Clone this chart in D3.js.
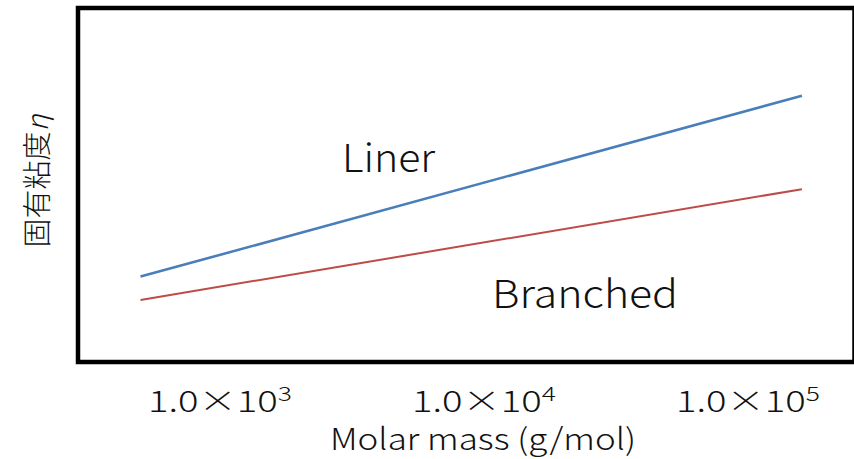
<!DOCTYPE html>
<html>
<head>
<meta charset="utf-8">
<script src="https://cdn.jsdelivr.net/npm/d3@7"></script>
<style>
  body { margin: 0; background: #fff; }
  svg { display: block; }
  text { font-family: "Noto Sans CJK JP", "Noto Sans", sans-serif; fill: #111; }
</style>
</head>
<body>
<svg id="chart" width="854" height="459"></svg>
<script>
// molar mass (g/mol) at the two ends of each line
const molarMass = [500, 160000];
// intrinsic viscosity, arbitrary units (no y ticks in the original)
const liner = [10, 595];
const branched = [5.9, 72];
const xTicks = [1e3, 1e4, 1e5];
const tickLabels = ["1.0\u00D710", "1.0\u00D710", "1.0\u00D710"];
const tickPowers = ["3", "4", "5"];

const svg = d3.select("#chart");

// frame
const frame = { left: 78, top: 8, right: 854.5, bottom: 362 };

const x = d3.scaleLog()
    .domain([1e3, 1e5])
    .range([220, 748]);

const y = d3.scaleLog()
    .domain([1.52, 4310])
    .range([360, 8]);

const line = d3.line()
    .x((d, i) => x(molarMass[i]))
    .y(d => y(d));

svg.append("path")
    .datum(liner)
    .attr("d", line)
    .attr("fill", "none")
    .attr("stroke", "#4a7ebb")
    .attr("stroke-width", 2.6);

svg.append("path")
    .datum(branched)
    .attr("d", line)
    .attr("fill", "none")
    .attr("stroke", "#be4b48")
    .attr("stroke-width", 2);

svg.append("rect")
    .attr("x", frame.left)
    .attr("y", frame.top)
    .attr("width", frame.right - frame.left)
    .attr("height", frame.bottom - frame.top)
    .attr("fill", "none")
    .attr("stroke", "#000")
    .attr("stroke-width", 4.5);

// series labels (original font is wider, so stretch a bit)
svg.append("text")
    .attr("x", 342)
    .attr("y", 172)
    .attr("font-size", 39)
    .attr("font-weight", 300)
    .attr("textLength", 93)
    .attr("lengthAdjust", "spacingAndGlyphs")
    .text("Liner");

svg.append("text")
    .attr("x", 492)
    .attr("y", 308)
    .attr("font-size", 39)
    .attr("font-weight", 300)
    .attr("textLength", 186)
    .attr("lengthAdjust", "spacingAndGlyphs")
    .text("Branched");

// x tick labels
const ticks = svg.append("g");
xTicks.forEach((t, i) => {
    const tx = ticks.append("text")
        .attr("x", x(t))
        .attr("y", 412)
        .attr("text-anchor", "middle")
        .attr("font-size", 29)
        .attr("font-weight", 300)
        .attr("textLength", 144)
        .attr("lengthAdjust", "spacingAndGlyphs");
    tx.append("tspan").text(tickLabels[i]);
    tx.append("tspan")
        .attr("font-size", 20)
        .attr("dy", -11)
        .text(tickPowers[i]);
});

// axis titles
svg.append("text")
    .attr("x", 483)
    .attr("y", 450)
    .attr("text-anchor", "middle")
    .attr("font-size", 30)
    .attr("font-weight", 300)
    .attr("textLength", 306)
    .attr("lengthAdjust", "spacingAndGlyphs")
    .text("Molar mass (g/mol)");

const yTitle = svg.append("text")
    .attr("transform", "translate(48,181) rotate(-90)")
    .attr("text-anchor", "middle")
    .attr("font-size", 29)
    .attr("font-weight", 300);
yTitle.append("tspan").text("固有粘度");
yTitle.append("tspan").attr("font-style", "italic").text("η");
</script>
</body>
</html>
